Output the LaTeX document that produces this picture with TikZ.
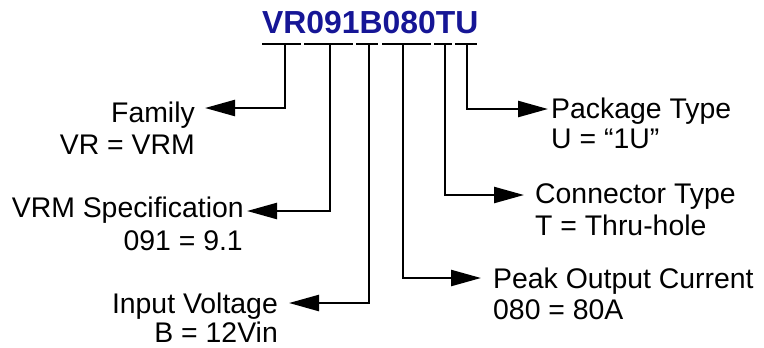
\documentclass[tikz,border=0pt]{standalone}
\usepackage{fontspec}
\setmainfont{Liberation Sans}
\usetikzlibrary{arrows.meta}
\definecolor{titleblue}{RGB}{22,22,150}
\begin{document}
\begin{tikzpicture}[x=1bp,y=-1bp,
  lbl/.style={inner sep=0pt,font=\fontsize{28.5}{34}\selectfont},
  conn/.style={line width=2.4bp,-{Triangle[length=30bp,width=16bp]}},
  seg/.style={line width=2.4bp}]
\useasboundingbox (0,0) rectangle (764,347);
% title
\node[inner sep=0pt,anchor=base west,text=titleblue,font=\fontsize{32}{38}\selectfont\bfseries] (title) at (262,33) {VR091B080TU};
% underline segments
\coordinate (s1a) at (262,44); \coordinate (s1b) at (301,44);
\coordinate (s2a) at (304,44); \coordinate (s2b) at (353,44);
\coordinate (s3a) at (356,44); \coordinate (s3b) at (378,44);
\coordinate (s4a) at (382,44); \coordinate (s4b) at (431,44);
\coordinate (s5a) at (434,44); \coordinate (s5b) at (452,44);
\coordinate (s6a) at (455,44); \coordinate (s6b) at (477,44);
\draw[seg] (s1a) -- (s1b);
\draw[seg] (s2a) -- (s2b);
\draw[seg] (s3a) -- (s3b);
\draw[seg] (s4a) -- (s4b);
\draw[seg] (s5a) -- (s5b);
\draw[seg] (s6a) -- (s6b);
% drop points
\coordinate (d1) at (285,44);
\coordinate (d2) at (330,44);
\coordinate (d3) at (369,44);
\coordinate (d4) at (403,44);
\coordinate (d5) at (445,44);
\coordinate (d6) at (467,44);
% labels
\node[lbl,anchor=base east] (fam) at (195,122) {Family};
\node[lbl,anchor=base east] (famv) at (195,154) {VR = VRM};
\node[lbl,anchor=base east] (vrm) at (244,217) {VRM Specification};
\node[lbl,anchor=base east] (vrmv) at (243,250) {091 = 9.1};
\node[lbl,anchor=base east] (inp) at (278,313) {Input Voltage};
\node[lbl,anchor=base east] (inpv) at (278,342) {B = 12Vin};
\node[lbl,anchor=base west] (pkg) at (551,118) {Package Type};
\node[lbl,anchor=base west] (pkgv) at (551,148) {U = “1U”};
\node[lbl,anchor=base west] (con) at (535,203) {Connector Type};
\node[lbl,anchor=base west] (conv) at (535,235) {T = Thru-hole};
\node[lbl,anchor=base west] (peak) at (493,288) {Peak Output Current};
\node[lbl,anchor=base west] (peakv) at (493,319) {080 = 80A};
% arrow tips
\coordinate (t1) at (205,108);
\coordinate (t2) at (247,211);
\coordinate (t3) at (289,303);
\coordinate (t4) at (481,278);
\coordinate (t5) at (524,195);
\coordinate (t6) at (548,109);
% connectors
\draw[conn] (d1) |- (t1);
\draw[conn] (d2) |- (t2);
\draw[conn] (d3) |- (t3);
\draw[conn] (d4) |- (t4);
\draw[conn] (d5) |- (t5);
\draw[conn] (d6) |- (t6);
\end{tikzpicture}
\end{document}
